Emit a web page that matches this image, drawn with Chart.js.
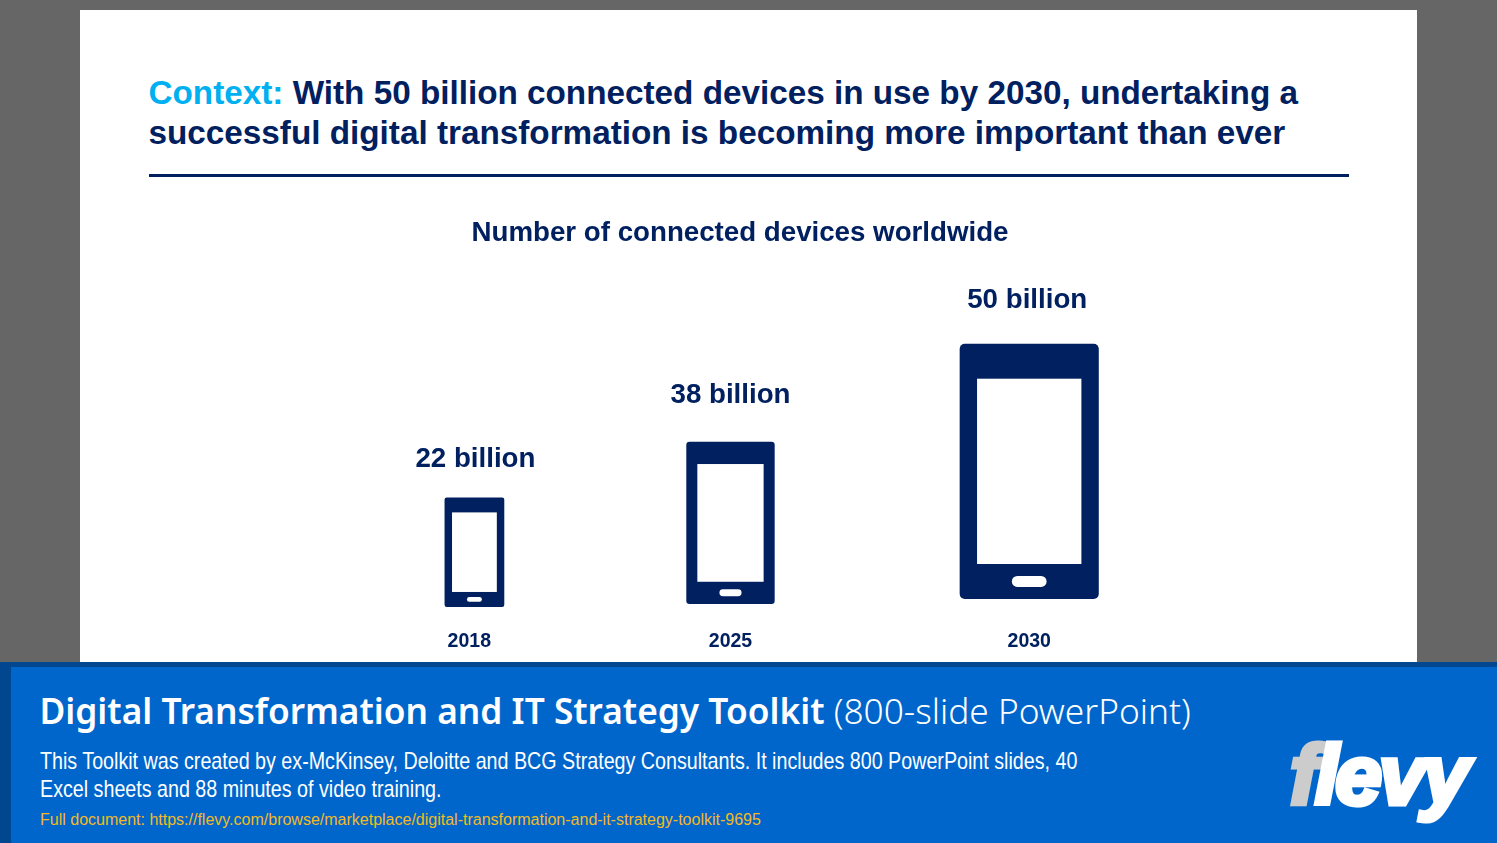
<!DOCTYPE html>
<html>
<head>
<meta charset="utf-8">
<title>Digital Transformation and IT Strategy Toolkit</title>
<script src="https://cdn.jsdelivr.net/npm/chart.js@4"></script>
<style>
    html, body { margin: 0; height: 100%; overflow: hidden; background: #666666; }
    .slide { position: absolute; left: 80px; top: 10px; width: 1337px; height: 652px; background: #fff; }
    #deviceChart { position: absolute; left: 0; top: 0; }
    .headline {
        position: absolute; left: 68.5px; top: 62.5px; width: 1240px; margin: 0;
        font: bold 33.28px/40px "Liberation Sans", Arial, sans-serif; color: #002060; white-space: nowrap;
    }
    .headline span { color: #00b0f0; }
    .rule { position: absolute; left: 68.5px; top: 163.5px; width: 1200.5px; height: 3px; background: #002060; }
    .footer {
        position: absolute; left: 0; top: 662px; width: 1497px; height: 181px; box-sizing: border-box;
        background: #0066cc; border-left: 11px solid #00478f; border-top: 5px solid #00478f; color: #fff;
    }
    .footer div { position: absolute; white-space: nowrap; }
    .toolkit { left: 28.5px; top: 20px; font: 600 35.27px/46px "Noto Sans", sans-serif; }
    .toolkit span { font-weight: 300; }
    .blurb {
        left: 29px; top: 80px; font: 24px/28px "Liberation Sans", sans-serif;
        transform: scaleX(0.82); transform-origin: left top;
    }
    .link { left: 29px; top: 143px; font: 16px/20px "Liberation Sans", sans-serif; color: #f4b91f; }
    .logo {
        left: 1279px; top: 58px; font: italic bold 84px/100px "Liberation Sans", sans-serif;
        -webkit-text-stroke: 5px currentColor; letter-spacing: -3px;
    }
    .logo span { color: #cccccc; }
</style>
</head>
<body>
<div class="slide">
    <h1 class="headline"><span>Context:</span> With 50 billion connected devices in use by 2030, undertaking a<br>successful digital transformation is becoming more important than ever</h1>
    <div class="rule"></div>
    <canvas id="deviceChart" width="1337" height="652"></canvas>
</div>
<div class="footer">
    <div class="toolkit">Digital Transformation and IT Strategy Toolkit <span>(800-slide PowerPoint)</span></div>
    <div class="blurb">This Toolkit was created by ex-McKinsey, Deloitte and BCG Strategy Consultants. It includes 800 PowerPoint slides, 40<br>Excel sheets and 88 minutes of video training.</div>
    <div class="link">Full document: https://flevy.com/browse/marketplace/digital-transformation-and-it-strategy-toolkit-9695</div>
    <div class="logo"><span>f</span>levy</div>
</div>

<script>
const years = ['2018', '2025', '2030'];
const billions = [22, 38, 50];

// phones, on the hidden icon axis
const iconX = [0, 6, 13];
const iconBottom = [13, 16, 21];
const iconTop = [122.5, 178, 276];
const tickX = [-0.12, 6, 13];

const navy = '#002060';
const fontFamily = '"Liberation Sans", Arial, sans-serif';

// the value labels don't sit at one fixed distance above the phones
const labelGap = [38, 46, 43];
const labelShift = [1, 0, -2];

// phones are scaled copies, so the width and the details follow from the height
const phonePlugin = {
    id: 'phone',
    afterDatasetsUpdate(chart) {
        chart.getDatasetMeta(0).data.forEach(bar => {
            bar.width = Math.abs(bar.base - bar.y) * 0.545;
        });
    },
    afterDatasetsDraw(chart) {
        const ctx = chart.ctx;
        ctx.save();
        chart.getDatasetMeta(0).data.forEach((bar, i) => {
            const h = Math.abs(bar.base - bar.y);
            const w = bar.width;

            // screen
            const screenW = w * 0.75;
            ctx.fillStyle = '#fff';
            ctx.fillRect(bar.x - screenW / 2, bar.y + h * 0.137, screenW, h * 0.726);

            // home button
            const btnW = w * 0.25;
            const btnH = h * 0.043;
            ctx.beginPath();
            ctx.roundRect(bar.x - btnW / 2, bar.base - h * 0.0686 - btnH / 2, btnW, btnH, btnH / 2);
            ctx.fill();

            // value label
            ctx.fillStyle = navy;
            ctx.font = 'bold 27.7px ' + fontFamily;
            ctx.textAlign = 'center';
            ctx.textBaseline = 'middle';
            ctx.fillText(billions[i] + ' billion', bar.x + labelShift[i], bar.y - labelGap[i]);
        });
        ctx.restore();
    }
};

new Chart(document.getElementById('deviceChart').getContext('2d'), {
    type: 'bar',
    data: {
        datasets: [{
            data: years.map((year, i) => ({ x: iconX[i], y: [iconBottom[i], iconTop[i]] })),
            backgroundColor: navy,
            borderRadius: ctx => (iconTop[ctx.dataIndex] - iconBottom[ctx.dataIndex]) * 0.02,
            borderSkipped: false
        }]
    },
    options: {
        responsive: false,
        animation: false,
        layout: { padding: { right: 17 } },
        plugins: {
            legend: { display: false },
            tooltip: { enabled: false },
            title: {
                display: true,
                text: 'Number of connected devices worldwide',
                color: navy,
                font: { family: fontFamily, size: 27.7, weight: 'bold' },
                padding: { top: 207, bottom: 8 }
            }
        },
        scales: {
            x: {
                type: 'linear',
                offset: false,
                min: -9.242,
                max: 21.688,
                grid: { display: false, drawTicks: false },
                border: { display: false },
                afterFit: scale => { scale.height = 42; },
                afterBuildTicks: scale => { scale.ticks = tickX.map(value => ({ value })); },
                ticks: {
                    color: navy,
                    font: { family: fontFamily, size: 19.5, weight: 'bold' },
                    padding: 10,
                    maxRotation: 0,
                    autoSkip: false,
                    callback: (value, i) => years[i]
                }
            },
            y: { display: false, min: 0, max: 361.4 }
        }
    },
    plugins: [phonePlugin]
});
</script>
</body>
</html>
